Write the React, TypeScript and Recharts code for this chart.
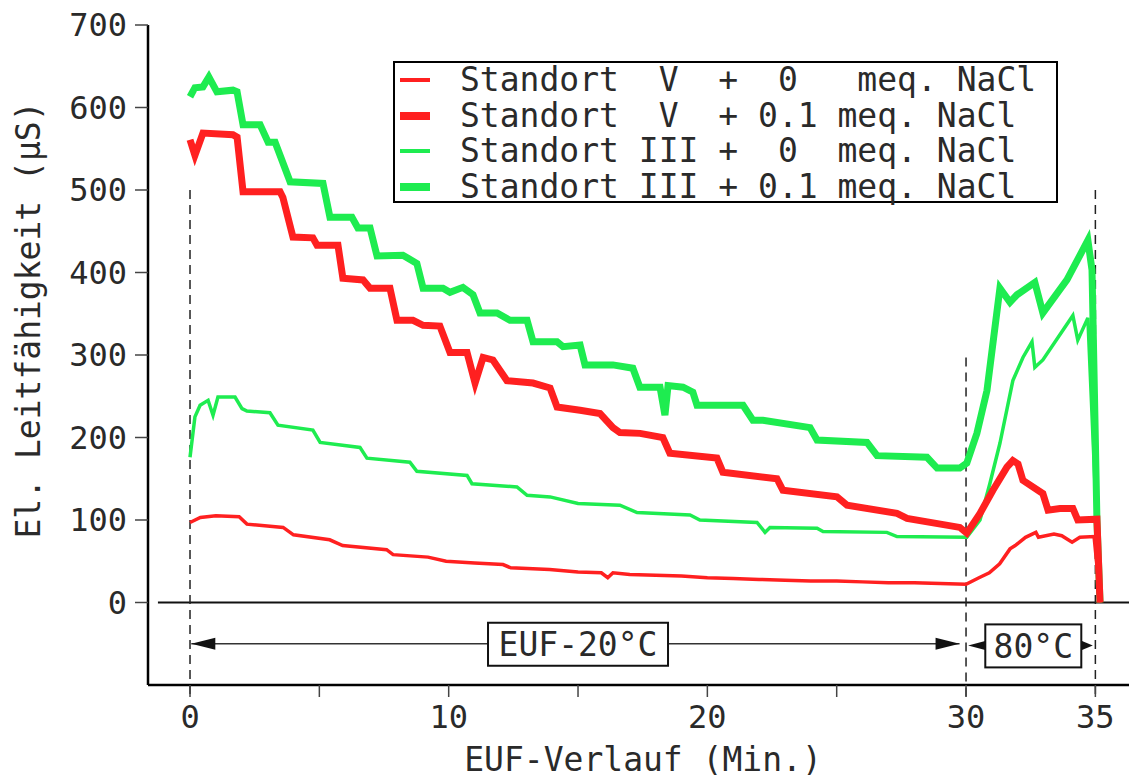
import React from 'react';
import { LineChart, Line, XAxis, YAxis, ReferenceLine, ReferenceDot, Legend, Label } from 'recharts';

// Minuten / µS
const minV0 = [0, 0.4, 1.0, 1.9, 2.2, 3.6, 4.0, 5.4, 5.9, 7.6, 7.85, 9.2, 9.9, 11, 12.1, 12.4, 13.9, 15, 15.9, 16.15, 16.35, 17, 18, 19, 20, 21, 22, 23, 24, 25, 26, 27, 28, 29, 30, 30.5, 30.9, 31.3, 31.7, 31.9, 32.3, 32.7, 32.8, 33.4, 33.7, 34.1, 34.4, 34.95, 35.2];
const valV0 = [97, 103, 105, 104, 95, 91, 82, 76, 69, 64, 58, 55, 50, 48, 46, 42, 40, 37, 36, 30, 36, 34, 33, 32, 30, 29, 28, 27, 26, 26, 25, 24, 24, 23, 22, 30, 36, 47, 65, 69, 79, 85, 79, 83, 81, 73, 79, 80, 0];

const minV01 = [0, 0.19, 0.5, 1.66, 1.82, 2.05, 3.48, 3.59, 3.98, 4.75, 4.91, 5.72, 5.91, 6.69, 6.96, 7.73, 8.0, 8.62, 9.01, 9.66, 10.05, 10.71, 11.02, 11.33, 11.71, 12.25, 13.26, 13.92, 14.19, 15.08, 15.85, 16.35, 16.62, 17.4, 18.28, 18.55, 20.37, 20.6, 22.69, 22.92, 25.01, 25.4, 27.33, 27.72, 29.76, 30.03, 30.54, 31.04, 31.58, 31.81, 32.01, 32.2, 32.97, 33.17, 33.63, 34.13, 34.32, 35.06, 35.18];
const valV01 = [561, 542, 569, 567, 564, 498, 498, 491, 443, 442, 433, 433, 393, 391, 381, 381, 342, 342, 336, 335, 303, 303, 266, 297, 294, 269, 266, 260, 237, 233, 229, 212, 206, 205, 200, 181, 175, 158, 150, 136, 128, 118, 108, 102, 91, 84, 108, 136, 164, 172, 168, 148, 132, 112, 114, 114, 100, 101, 0];

const minIII0 = [0, 0.19, 0.39, 0.7, 0.89, 1.08, 1.74, 2.01, 2.2, 3.09, 3.4, 4.75, 5.03, 6.57, 6.84, 8.5, 8.77, 10.71, 10.9, 12.64, 13.03, 13.92, 15, 16.62, 17.28, 19.33, 19.71, 21.92, 22.23, 22.42, 24.24, 24.47, 26.94, 27.33, 30.03, 30.54, 30.92, 31.31, 31.81, 32.2, 32.55, 32.66, 32.97, 34.13, 34.32, 34.71, 35.18];
const valIII0 = [176, 225, 239, 245, 227, 249, 249, 235, 232, 230, 215, 209, 194, 188, 175, 170, 159, 154, 144, 140, 130, 128, 120, 118, 109, 106, 100, 97, 85, 91, 90, 86, 85, 80, 79, 100, 144, 193, 269, 297, 316, 285, 294, 348, 318, 345, 0];

const minIII01 = [0, 0.19, 0.5, 0.73, 1.04, 1.66, 1.82, 2.05, 2.71, 3.02, 3.29, 3.87, 5.14, 5.41, 6.26, 6.49, 6.96, 7.23, 8.23, 8.77, 9.01, 9.78, 10.05, 10.55, 10.94, 11.21, 11.87, 12.37, 13.03, 13.26, 14.19, 14.42, 15.08, 15.27, 16.35, 17.12, 17.39, 18.17, 18.36, 18.48, 19.06, 19.44, 19.6, 21.38, 21.76, 22.15, 23.97, 24.24, 26.17, 26.56, 28.49, 28.88, 29.76, 30.03, 30.42, 30.81, 31.31, 31.7, 31.97, 32.66, 32.97, 33.9, 34.71, 34.87, 35.06, 35.18];
const valIII01 = [613, 624, 625, 637, 619, 621, 619, 579, 579, 558, 558, 510, 508, 467, 467, 454, 454, 420, 421, 411, 381, 381, 376, 382, 373, 351, 351, 342, 342, 316, 316, 310, 312, 288, 288, 284, 261, 261, 227, 263, 261, 255, 239, 239, 221, 221, 212, 197, 194, 178, 176, 163, 163, 169, 205, 257, 381, 364, 373, 388, 351, 391, 439, 403, 100, 0];

const xTicks = [0, 5, 10, 15, 20, 25, 30, 35];
const xLabelled = [0, 10, 20, 30, 35];
const yTicks = [0, 100, 200, 300, 400, 500, 600, 700];

// Phasengrenzen (Min.) und Beginn der gestrichelten Linie (µS)
const phaseMin = [0, 30, 35];
const phaseTop = [500, 297, 500];

const legendTexts = [
  'Standort  V  +  0   meq. NaCl',
  'Standort  V  + 0.1 meq. NaCl',
  'Standort III +  0  meq. NaCl',
  'Standort III + 0.1 meq. NaCl',
];

const RED = '#ff2020';
const GREEN = '#1eec50';
const INK = '#2a2a2a';
const MONO = '"DejaVu Sans Mono", monospace';

const toPoints = (t: number[], v: number[]) => t.map((m, i) => ({ t: m, v: v[i] }));

const legendStyle = [
  { color: RED, h: 4 },
  { color: RED, h: 8 },
  { color: GREEN, h: 4 },
  { color: GREEN, h: 8 },
];

const renderLegend = () => (
  <div
    style={{
      width: 665,
      height: 142,
      border: '2px solid #000',
      boxSizing: 'border-box',
      background: '#fff',
      position: 'relative',
      fontFamily: MONO,
      fontSize: 33,
      color: INK,
    }}
  >
    {legendTexts.map((txt, i) => (
      <div
        key={i}
        style={{ position: 'absolute', left: 5, top: -1 + i * 35.7, height: 36, lineHeight: '36px', display: 'flex', alignItems: 'center', whiteSpace: 'pre' }}
      >
        <span style={{ display: 'inline-block', width: 30, height: legendStyle[i].h, background: legendStyle[i].color, marginRight: 30 }} />
        <span>{txt}</span>
      </div>
    ))}
  </div>
);

const arrowLeft = (len: number, h: number) => (p: any) => (
  <polygon points={`${p.cx},${p.cy} ${p.cx + len},${p.cy - h} ${p.cx + len},${p.cy + h}`} fill="#111" />
);
const arrowRight = (len: number, h: number) => (p: any) => (
  <polygon points={`${p.cx},${p.cy} ${p.cx - len},${p.cy - h} ${p.cx - len},${p.cy + h}`} fill="#111" />
);
const textBox = (label: string, w: number) => (p: any) => (
  <g>
    <rect x={p.cx - w / 2} y={p.cy - 21} width={w} height={43} fill="#fff" stroke="#111" strokeWidth={2} />
    <text x={p.cx} y={p.cy + 1} textAnchor="middle" dominantBaseline="central" fontFamily={MONO} fontSize={33} fill={INK}>
      {label}
    </text>
  </g>
);

const App: React.FC = () => {
  return (
    <div style={{ position: 'absolute', left: 0, top: 0, width: 1129, height: 781, background: '#fff' }}>
      <LineChart width={1129} height={781} margin={{ top: 25, right: 0, bottom: 0, left: 0 }}>
        <XAxis
          type="number"
          dataKey="t"
          domain={[-1.624, 36.3]}
          ticks={xTicks}
          allowDataOverflow
          tickFormatter={(v: number) => (xLabelled.includes(v) ? String(v) : '')}
          height={96}
          axisLine={{ stroke: '#000', strokeWidth: 2.5 }}
          tickLine={{ stroke: '#444', strokeWidth: 1.5 }}
          tickSize={12}
          tickMargin={8}
          tick={{ fill: INK, fontSize: 32, fontFamily: MONO }}
        >
          <Label
            content={() => (
              <text x={643} y={759} textAnchor="middle" dominantBaseline="central" fontFamily={MONO} fontSize={33} fill={INK}>
                EUF-Verlauf (Min.)
              </text>
            )}
          />
        </XAxis>
        <YAxis
          type="number"
          domain={[-100, 700]}
          ticks={yTicks}
          allowDataOverflow
          width={148}
          axisLine={{ stroke: '#000', strokeWidth: 2.5 }}
          tickLine={{ stroke: '#444', strokeWidth: 1.5 }}
          tickSize={13}
          tickMargin={8}
          tick={{ fill: INK, fontSize: 32, fontFamily: MONO }}
        >
          <Label
            content={() => (
              <text
                x={28}
                y={320}
                transform="rotate(-90 28 320)"
                textAnchor="middle"
                dominantBaseline="central"
                fontFamily={MONO}
                fontSize={33}
                fill={INK}
              >
                El. Leitfähigkeit (µS)
              </text>
            )}
          />
        </YAxis>

        <ReferenceLine segment={[{ x: -1.24, y: 0 }, { x: 36.3, y: 0 }]} stroke="#111" strokeWidth={2} ifOverflow="visible" />
        {phaseMin.map((m, i) => (
          <ReferenceLine
            key={m}
            segment={[{ x: m, y: phaseTop[i] }, { x: m, y: -114.5 }]}
            stroke="#222"
            strokeWidth={1.5}
            strokeDasharray="9 6"
            ifOverflow="visible"
          />
        ))}
        <ReferenceLine segment={[{ x: 0.05, y: -50 }, { x: 29.75, y: -50 }]} stroke="#333" strokeWidth={1.3} />
        <ReferenceDot x={0.05} y={-50} r={1} shape={arrowLeft(24, 6)} />
        <ReferenceDot x={29.75} y={-50} r={1} shape={arrowRight(24, 6)} />
        <ReferenceDot x={15} y={-50} r={1} shape={textBox('EUF-20°C', 180)} />
        <ReferenceDot x={30.08} y={-52} r={1} shape={arrowLeft(19, 5)} />
        <ReferenceDot x={34.9} y={-52} r={1} shape={arrowRight(12, 5)} />
        <ReferenceDot x={32.6} y={-52} r={1} shape={textBox('80°C', 96)} />

        <Line data={toPoints(minIII0, valIII0)} dataKey="v" stroke={GREEN} strokeWidth={3.5} dot={false} isAnimationActive={false} />
        <Line data={toPoints(minIII01, valIII01)} dataKey="v" stroke={GREEN} strokeWidth={7} dot={false} isAnimationActive={false} />
        <Line data={toPoints(minV0, valV0)} dataKey="v" stroke={RED} strokeWidth={3.5} dot={false} isAnimationActive={false} />
        <Line data={toPoints(minV01, valV01)} dataKey="v" stroke={RED} strokeWidth={7} dot={false} isAnimationActive={false} />

        <Legend
          layout="vertical"
          align="center"
          verticalAlign="middle"
          content={renderLegend}
          wrapperStyle={{ left: 393, top: 61, width: 665, height: 142 }}
        />
      </LineChart>
    </div>
  );
};

export default App;
